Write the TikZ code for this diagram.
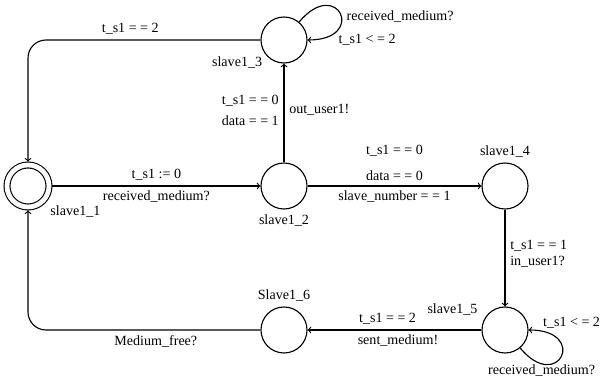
\documentclass[tikz,border=0pt]{standalone}
\usepackage{fontspec}
\setmainfont{Liberation Serif}
\usetikzlibrary{arrows,positioning}

\begin{document}
\begin{tikzpicture}[
    node distance=3.6cm,
    >=to,
    line width=0.8pt,
    font=\normalfont,
    location/.style={
		circle,
		draw=black,
		inner sep=0pt,
		minimum size=11.5mm,
		fill=white
	},
	startloc/.style={
		location,
		double,
		double distance=3.4pt,
		minimum size=10.5mm,
		outer sep=2.4pt
	}
  ]

\useasboundingbox (-0.7,-4.775) rectangle (14.375,4.65);

% locations of the slave automaton
\node [startloc, label={[yshift=2pt]below right:slave1\_1}] (slave1) {};
\node [location, right of=slave1, xshift=2.8cm, label={below:slave1\_2}] (slave2) {};
\node [location, above of=slave2, yshift=0.05cm, label={[yshift=4pt]below left:slave1\_3}] (slave3) {};
\node [location, right of=slave2, xshift=1.925cm, label={above:slave1\_4}] (slave4) {};
\node [location, below of=slave4, label={[xshift=-4pt, yshift=-5pt]above left:slave1\_5}] (slave5) {};
\node [location, left of=slave5, xshift=-1.925cm, label={above:Slave1\_6}] (slave6) {};

% transitions
\draw [->] (slave1) -- node [above] {t\_s1 := 0} node [below] {received\_medium?} (slave2);
\draw [->] (slave2) -- node [left, pos=0.62] {t\_s1 = = 0} node [left, pos=0.42] {data = = 1}
                       node [right, pos=0.53] {out\_user1!} (slave3);
\draw [->] (slave2) -- node [above] {data = = 0} node [above, yshift=0.6cm] {t\_s1 = = 0}
                       node [below] {slave\_number = = 1} (slave4);
\draw [->] (slave4) -- node [right, pos=0.37] {t\_s1 = = 1} node [right, pos=0.54] {in\_user1?} (slave5);
\draw [->] (slave5) -- node [above, pos=0.54] {t\_s1 = = 2} node [below, pos=0.48] {sent\_medium!} (slave6);
\draw [->, rounded corners=0.45cm] (slave3) -| node [above, pos=0.28] {t\_s1 = = 2} (slave1);
\draw [->, rounded corners=0.45cm] (slave6) -| node [below, pos=0.225] {Medium\_free?} (slave1);

% self loops
\draw [->] (slave3) to [out=50, in=0, distance=1.5cm]
  node [right, pos=0.55] {received\_medium?}
  node [right, pos=0.8, yshift=-4pt] {t\_s1 < = 2} (slave3);
\draw [->] (slave5) to [out=-50, in=0, distance=1.5cm]
  node [below, pos=0.2, yshift=3pt] {received\_medium?}
  node [above right, pos=0.9, xshift=-3pt, inner sep=2pt] {t\_s1 < = 2} (slave5);

\end{tikzpicture}
\end{document}
